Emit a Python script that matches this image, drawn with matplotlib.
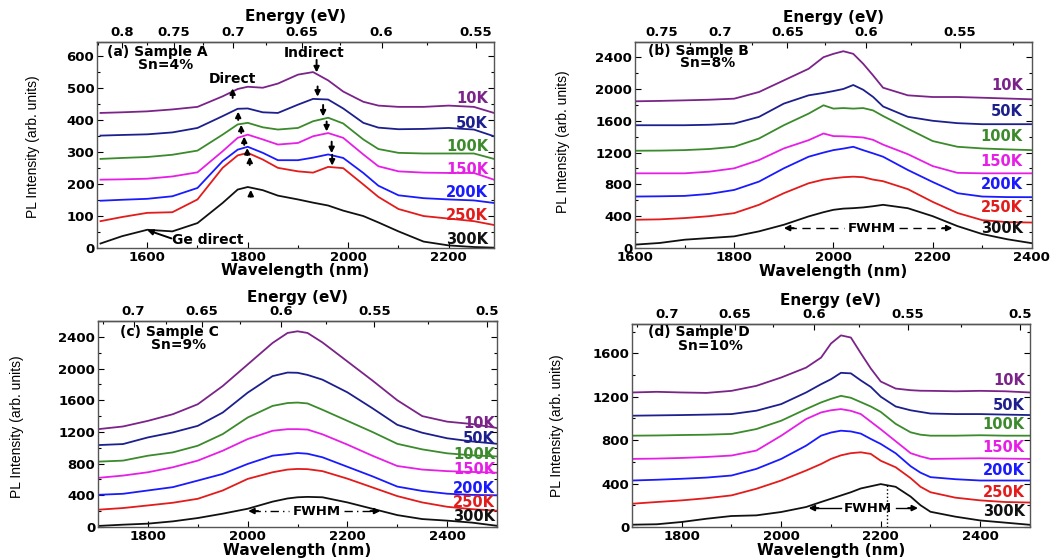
import numpy as np
import matplotlib.pyplot as plt
from matplotlib.ticker import MultipleLocator, FixedLocator

temps = ["10K", "50K", "100K", "150K", "200K", "250K", "300K"]
colors = ["#7b2389", "#1c1f8c", "#3b8a2c", "#e61ee6", "#1a1aff", "#e31b1b", "#111111"]

# (a) Sample A, Sn=4%
wl_a = [1507, 1550, 1600, 1650, 1700, 1750, 1780, 1800, 1830, 1860, 1900,
        1930, 1960, 1990, 2030, 2060, 2100, 2150, 2200, 2250, 2290]
a_10K = [423, 425, 428, 434, 442, 475, 498, 505, 502, 515, 543, 551, 525, 490, 458, 446, 442, 442, 446, 442, 423]
a_50K = [352, 354, 356, 362, 376, 413, 436, 437, 425, 423, 449, 467, 465, 437, 392, 377, 372, 373, 376, 371, 350]
a_100K = [279, 282, 285, 292, 305, 355, 387, 392, 378, 371, 376, 397, 408, 390, 340, 310, 298, 296, 296, 296, 279]
a_150K = [214, 215, 217, 224, 237, 303, 345, 355, 340, 324, 329, 350, 360, 345, 293, 256, 240, 236, 235, 235, 214]
a_200K = [148, 151, 154, 162, 188, 272, 308, 317, 298, 275, 275, 283, 293, 282, 235, 195, 165, 156, 152, 149, 141]
a_250K = [84, 97, 110, 112, 152, 251, 290, 298, 277, 251, 240, 236, 254, 250, 199, 160, 122, 100, 92, 84, 72]
a_300K = [14, 37, 57, 52, 78, 141, 183, 191, 181, 164, 152, 142, 133, 117, 100, 80, 52, 20, 8, 3, 1]

# (b) Sample B, Sn=8%
wl_b = [1600, 1650, 1700, 1750, 1800, 1850, 1900, 1950, 1980, 2000, 2020,
        2040, 2060, 2080, 2100, 2150, 2200, 2250, 2300, 2350, 2400]
b_10K = [1845, 1850, 1857, 1865, 1878, 1962, 2108, 2254, 2400, 2442, 2475, 2442, 2317, 2170, 2016, 1920, 1899, 1899, 1890, 1880, 1870]
b_50K = [1544, 1544, 1544, 1550, 1565, 1649, 1816, 1920, 1950, 1974, 2000, 2050, 1990, 1900, 1780, 1650, 1600, 1570, 1557, 1557, 1557]
b_100K = [1223, 1225, 1231, 1245, 1273, 1377, 1544, 1690, 1795, 1753, 1760, 1753, 1760, 1730, 1660, 1500, 1345, 1273, 1252, 1240, 1231]
b_150K = [939, 939, 939, 960, 1002, 1106, 1252, 1356, 1440, 1407, 1405, 1398, 1390, 1360, 1300, 1180, 1030, 945, 939, 939, 939]
b_200K = [647, 650, 655, 680, 730, 835, 1002, 1148, 1200, 1231, 1250, 1273, 1230, 1190, 1148, 981, 830, 689, 647, 640, 639]
b_250K = [355, 360, 376, 400, 438, 543, 689, 814, 860, 877, 890, 897, 890, 860, 840, 740, 580, 440, 350, 325, 320]
b_300K = [42, 63, 104, 125, 146, 209, 292, 397, 450, 480, 495, 501, 510, 525, 543, 500, 400, 275, 175, 110, 60]

# (c) Sample C, Sn=9%
wl_c = [1700, 1750, 1800, 1850, 1900, 1950, 2000, 2050, 2080, 2100,
        2120, 2150, 2200, 2250, 2300, 2350, 2400, 2450, 2500]
c_10K = [1235, 1269, 1340, 1424, 1550, 1780, 2052, 2324, 2450, 2471, 2450, 2330, 2090, 1850, 1600, 1400, 1330, 1300, 1250]
c_50K = [1034, 1047, 1131, 1194, 1277, 1445, 1696, 1905, 1950, 1947, 1920, 1860, 1700, 1500, 1290, 1190, 1120, 1080, 1050]
c_100K = [825, 838, 900, 942, 1026, 1173, 1382, 1529, 1565, 1571, 1560, 1480, 1340, 1200, 1050, 980, 930, 905, 890]
c_150K = [620, 649, 691, 754, 838, 963, 1110, 1215, 1235, 1235, 1230, 1170, 1040, 900, 770, 725, 705, 695, 685]
c_200K = [406, 419, 461, 503, 586, 670, 796, 900, 920, 934, 925, 880, 760, 640, 510, 455, 420, 405, 400]
c_250K = [218, 239, 272, 306, 356, 461, 607, 691, 725, 733, 730, 705, 610, 500, 390, 310, 255, 225, 205]
c_300K = [13, 29, 42, 71, 113, 168, 230, 320, 360, 375, 380, 375, 310, 230, 150, 100, 80, 55, 15]

# (d) Sample D, Sn=10%
wl_d = [1700, 1750, 1800, 1850, 1900, 1950, 2000, 2050, 2080, 2100, 2120, 2140,
        2160, 2180, 2200, 2230, 2260, 2280, 2300, 2350, 2400, 2450, 2500]
d_10K = [1239, 1245, 1239, 1235, 1254, 1300, 1377, 1468, 1560, 1690, 1765, 1745, 1600, 1460, 1340, 1275, 1260, 1255, 1254, 1250, 1254, 1250, 1239]
d_50K = [1025, 1028, 1031, 1035, 1040, 1071, 1132, 1239, 1315, 1361, 1420, 1415, 1350, 1290, 1200, 1110, 1075, 1060, 1045, 1040, 1040, 1035, 1031]
d_100K = [841, 843, 847, 850, 857, 902, 979, 1086, 1147, 1180, 1208, 1190, 1150, 1110, 1060, 950, 872, 850, 841, 841, 845, 841, 841]
d_150K = [627, 630, 636, 645, 658, 704, 841, 994, 1055, 1075, 1086, 1070, 1040, 970, 900, 790, 680, 650, 627, 630, 633, 630, 627]
d_200K = [428, 435, 444, 455, 474, 535, 627, 749, 841, 870, 887, 880, 860, 811, 765, 679, 560, 500, 459, 440, 428, 428, 428]
d_250K = [214, 230, 245, 265, 291, 352, 428, 520, 580, 627, 660, 680, 688, 673, 610, 550, 450, 370, 320, 270, 245, 230, 225]
d_300K = [21, 25, 46, 76, 101, 107, 138, 184, 230, 260, 290, 320, 355, 375, 395, 370, 280, 200, 140, 95, 60, 40, 20]


def energy(x):
    x = np.asarray(x, dtype=float)
    with np.errstate(divide="ignore"):
        return 1239.84 / x


bold = dict(fontweight="bold", family="DejaVu Sans")
narrow = ["Liberation Sans Narrow", "Liberation Sans", "DejaVu Sans"]

fig = plt.figure(figsize=(10.6, 5.58), dpi=100)

panels = [
    dict(rect=[0.0915, 0.5556, 0.3745, 0.369], wl=wl_a,
         ys=[a_10K, a_50K, a_100K, a_150K, a_200K, a_250K, a_300K],
         xlim=(1500, 2290), ylim=(0, 645), xmin=100, ymaj=100, ymin=50,
         xticks=[1600, 1800, 2000, 2200],
         eticks=[0.8, 0.75, 0.7, 0.65, 0.6, 0.55],
         labx=0.985, laby=[467, 391, 318, 247, 175, 103, 25],
         title="(a) Sample A", sn="Sn=4%", tpos=(0.025, 0.95), spos=(0.103, 0.89),
         ylc=(-0.161, 0.49), xlc=-0.11, elc=1.123),
    dict(rect=[0.599, 0.5556, 0.3745, 0.369], wl=wl_b,
         ys=[b_10K, b_50K, b_100K, b_150K, b_200K, b_250K, b_300K],
         xlim=(1600, 2400), ylim=(0, 2590), xmin=100, ymaj=400, ymin=200,
         xticks=[1600, 1800, 2000, 2200, 2400],
         eticks=[0.75, 0.7, 0.65, 0.6, 0.55],
         labx=0.977, laby=[2045, 1711, 1398, 1085, 801, 513, 250],
         title="(b) Sample B", sn="Sn=8%", tpos=(0.033, 0.958), spos=(0.113, 0.897),
         ylc=(-0.181, 0.516), xlc=-0.115, elc=1.12),
    dict(rect=[0.0925, 0.0556, 0.3764, 0.369], wl=wl_c,
         ys=[c_10K, c_50K, c_100K, c_150K, c_200K, c_250K, c_300K],
         xlim=(1700, 2500), ylim=(0, 2600), xmin=100, ymaj=400, ymin=200,
         xticks=[1800, 2000, 2200, 2400],
         eticks=[0.7, 0.65, 0.6, 0.55, 0.5],
         labx=0.995, laby=[1311, 1118, 921, 720, 490, 314, 126],
         title="(c) Sample C", sn="Sn=9%", tpos=(0.055, 0.948), spos=(0.132, 0.883),
         ylc=(-0.203, 0.485), xlc=-0.115, elc=1.115),
    dict(rect=[0.5962, 0.0556, 0.3755, 0.3638], wl=wl_d,
         ys=[d_10K, d_50K, d_100K, d_150K, d_200K, d_250K, d_300K],
         xlim=(1700, 2500), ylim=(0, 1870), xmin=100, ymaj=400, ymin=200,
         xticks=[1800, 2000, 2200, 2400],
         eticks=[0.7, 0.65, 0.6, 0.55, 0.5],
         labx=0.987, laby=[1346, 1123, 942, 734, 520, 321, 138],
         title="(d) Sample D", sn="Sn=10%", tpos=(0.041, 0.96), spos=(0.116, 0.893),
         ylc=(-0.188, 0.5), xlc=-0.117, elc=1.115),
]

axes = []
for p in panels:
    ax = fig.add_axes(p["rect"])
    axes.append(ax)
    for y, c in zip(p["ys"], colors):
        ax.plot(p["wl"], y, color=c, lw=1.3)
    ax.set_xlim(*p["xlim"])
    ax.set_ylim(*p["ylim"])
    ax.xaxis.set_major_locator(FixedLocator(p["xticks"]))
    ax.xaxis.set_minor_locator(MultipleLocator(p["xmin"]))
    ax.yaxis.set_major_locator(MultipleLocator(p["ymaj"]))
    ax.yaxis.set_minor_locator(MultipleLocator(p["ymin"]))
    ax.tick_params(which="both", direction="in", top=False, right=True, width=0.8)
    ax.tick_params(which="major", length=4, labelsize=9.5, pad=2)
    ax.tick_params(which="minor", length=2)
    for lab in ax.get_xticklabels() + ax.get_yticklabels():
        lab.set_fontweight("bold")
    for s in ax.spines.values():
        s.set_linewidth(1.0)
        s.set_color("#555555")

    sec = ax.secondary_xaxis("top", functions=(energy, energy))
    sec.set_xticks(p["eticks"])
    sec.set_xticklabels(["%g" % e for e in p["eticks"]], fontweight="bold", fontsize=9.5)
    et = p["eticks"]
    sec.xaxis.set_minor_locator(FixedLocator([(et[i] + et[i + 1]) / 2 for i in range(len(et) - 1)]
                                             + [et[-1] - 0.025, et[0] + 0.025]))
    sec.tick_params(which="both", direction="in", width=0.8, pad=2)
    sec.tick_params(which="major", length=4)
    sec.tick_params(which="minor", length=2)
    sec.spines["top"].set_linewidth(1.0)
    sec.spines["top"].set_color("#555555")

    ax.text(0.5, p["elc"], "Energy (eV)", transform=ax.transAxes, ha="center", va="center",
            fontsize=11, **bold)
    ax.set_xlabel("Wavelength (nm)", fontsize=11, va="center", **bold)
    ax.xaxis.set_label_coords(0.5, p["xlc"])
    ax.set_ylabel("PL Intensity (arb. units)", fontsize=10, family=narrow, va="center")
    ax.yaxis.set_label_coords(*p["ylc"])

    ax.text(p["tpos"][0], p["tpos"][1], p["title"], transform=ax.transAxes,
            va="center", fontsize=10, **bold)
    ax.text(p["spos"][0], p["spos"][1], p["sn"], transform=ax.transAxes,
            va="center", fontsize=10, **bold)
    trans = ax.get_yaxis_transform()
    for t, c, yl in zip(temps, colors, p["laby"]):
        ax.text(p["labx"], yl, t, transform=trans, ha="right", va="center",
                color=c, fontsize=10.5, **bold)

arw = dict(arrowstyle="-|>", color="k", lw=1.4, mutation_scale=8, shrinkA=0, shrinkB=0)

# panel (a) annotations
ax = axes[0]
ax.text(1769, 529, "Direct", ha="center", va="center", fontsize=10, **bold)
ax.text(1933, 611, "Indirect", ha="center", va="center", fontsize=10, **bold)
for x, y0, y1 in [(1770, 470, 500), (1781, 401, 427), (1787, 360, 386), (1793, 323, 349),
                  (1799, 291, 313), (1804, 260, 286), (1806, 161, 182),
                  (1937, 589, 550), (1939, 506, 474), (1950, 448, 412), (1957, 396, 365),
                  (1967, 333, 297), (1968, 292, 258)]:
    ax.annotate("", xy=(x, y1), xytext=(x, y0), arrowprops=arw)
ax.text(1650, 25, "Ge direct", ha="left", va="center", fontsize=10, **bold)
ax.annotate("", xy=(1600, 56), xytext=(1648, 30), arrowprops=arw)


def fwhm(ax, x0, x1, xt, y, ls, half):
    ax.plot([x0 + 8, xt - half], [y, y], color="k", lw=1.0, ls=ls)
    ax.plot([xt + half, x1 - 8], [y, y], color="k", lw=1.0, ls=ls)
    ax.annotate("", xy=(x0, y), xytext=(x0 + 20, y), arrowprops=arw)
    ax.annotate("", xy=(x1, y), xytext=(x1 - 20, y), arrowprops=arw)
    ax.text(xt, y, "FWHM", ha="center", va="center", fontsize=9.5, **bold)


fwhm(axes[1], 1900, 2240, 2077, 250, (0, (6, 4)), 55)
fwhm(axes[2], 2001, 2266, 2138, 201, (0, (6, 3, 1, 3)), 55)
fwhm(axes[3], 2055, 2275, 2175, 174, "-", 55)
axes[3].plot([2213, 2213], [0, 400], color="k", lw=1.0, ls=":")

fig.savefig("out.png", dpi=100)
